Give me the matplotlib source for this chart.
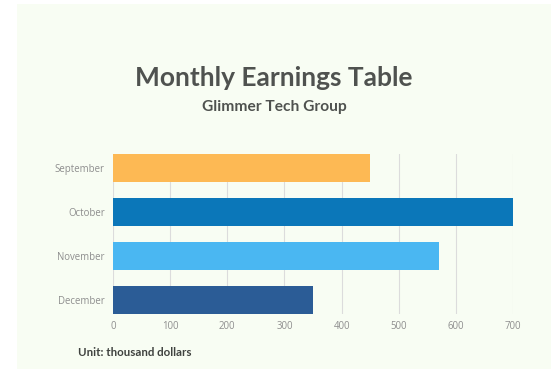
import matplotlib.pyplot as plt
from matplotlib.patches import Rectangle

months = ['September', 'October', 'November', 'December']
earnings = [450, 700, 570, 350]
bar_colors = ['#FDB954', '#0B77B9', '#4AB7F2', '#2B5C96']
xticks = [0, 100, 200, 300, 400, 500, 600, 700]

fig = plt.figure(figsize=(5.51, 3.69), dpi=100)
fig.patch.set_facecolor('white')
# light panel behind everything
fig.patches.append(Rectangle((17 / 551, 0), 1, 1 - 4 / 369, transform=fig.transFigure,
                             facecolor='#F8FDF3', edgecolor='none', zorder=-1))

ax = fig.add_axes([113 / 551, 1 - 314 / 369, 400 / 551, 160 / 369])
ax.set_facecolor('none')

ypos = list(range(len(months)))
ax.barh(ypos, earnings, height=0.64, color=bar_colors, zorder=3)
ax.set_yticks(ypos)
ax.set_yticklabels(months)
ax.set_ylim(3.32, -0.32)
ax.set_xlim(0, 700)
ax.set_xticks(xticks)
ax.set_xticklabels([str(v) for v in xticks])

ax.grid(axis='x', color='#DCDCDC', linewidth=0.8, zorder=0)
ax.tick_params(length=0, colors='#8E8E8E', labelsize=6.9)
ax.tick_params(axis='y', pad=6)
ax.tick_params(axis='x', pad=5)
for lab in ax.get_xticklabels() + ax.get_yticklabels():
    lab.set_family('Open Sans')
for s in ax.spines.values():
    s.set_visible(False)

fig.text(274 / 551, 1 - 78 / 369, 'Monthly Earnings Table', ha='center', va='center',
         fontsize=19, color='#4F524F', family='Lato', weight='bold')
fig.text(274 / 551, 1 - 107 / 369, 'Glimmer Tech Group', ha='center', va='center',
         fontsize=11.2, color='#4F524F', family='Lato', weight='bold')
fig.text(78 / 551, 1 - 353 / 369, 'Unit: thousand dollars', ha='left', va='center',
         fontsize=8.3, color='#3F423F', family='Lato', weight='bold')

fig.savefig('out.png', dpi=100, facecolor=fig.get_facecolor())
